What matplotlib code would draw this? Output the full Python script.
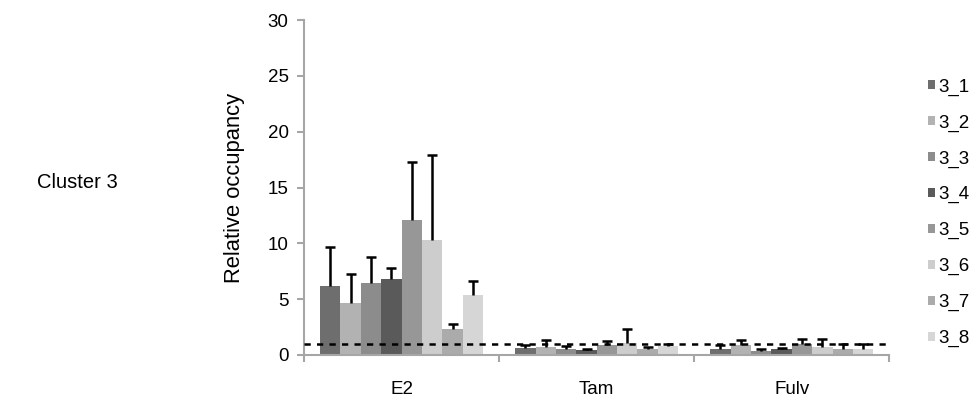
import matplotlib
matplotlib.use("Agg")
import matplotlib.pyplot as plt
import numpy as np

plt.rcParams['font.family'] = ['Liberation Sans', 'DejaVu Sans']

categories = ["E2", "Tam", "Fulv"]
series = ["3_1", "3_2", "3_3", "3_4", "3_5", "3_6", "3_7", "3_8"]
colors = ["#6e6e6e", "#b2b2b2", "#8c8c8c", "#5a5a5a", "#979797", "#cdcdcd", "#ababab", "#d6d6d6"]

# values[series][category]
values = [
    [6.2, 0.62, 0.58],
    [4.63, 0.70, 0.93],
    [6.45, 0.55, 0.37],
    [6.78, 0.42, 0.50],
    [12.1, 0.85, 1.00],
    [10.3, 1.10, 0.72],
    [2.36, 0.55, 0.54],
    [5.37, 0.80, 0.54],
]
errors = [
    [3.5, 0.23, 0.27],
    [2.62, 0.60, 0.37],
    [2.35, 0.25, 0.18],
    [1.02, 0.13, 0.15],
    [5.2, 0.40, 0.45],
    [7.6, 1.20, 0.73],
    [0.42, 0.15, 0.42],
    [1.28, 0.15, 0.42],
]
reference_level = 1.0

fig = plt.figure(figsize=(9.79, 4.05), dpi=100)
ax = fig.add_axes([0.3105, 0.1235, 0.598, 0.827])

n = len(series)
bw = 0.1045
x = np.arange(len(categories))
for i in range(n):
    offs = (i - (n - 1) / 2) * bw
    ax.bar(x + offs, values[i], width=bw, color=colors[i], label=series[i], zorder=2)
    eb = ax.errorbar(x + offs, values[i], yerr=[np.zeros(len(categories)), errors[i]],
                     fmt='none', ecolor='black', elinewidth=1.8, capsize=3.8,
                     capthick=1.8, zorder=2.5)
    caps = eb[1]
    if len(caps) == 2:
        caps[0].set_visible(False)

ax.axhline(reference_level, color='black', linestyle=(0, (2.5, 2.5)), linewidth=1.8, zorder=3)

ax.set_xlim(-0.5, len(categories) - 0.5)
ax.set_ylim(0, 30)
ax.set_yticks(np.arange(0, 31, 5))
ax.set_xticks(x)
ax.set_xticklabels(categories, fontsize=13.5)
ax.set_xticks(np.arange(-0.5, len(categories), 1), minor=True)
ax.tick_params(axis='x', which='major', length=0, pad=19)
ax.tick_params(axis='x', which='minor', length=5, width=1.5, color='#a6a6a6', direction='out')
ax.tick_params(axis='y', length=5, width=1.5, color='#a6a6a6', labelsize=13.5, pad=6)

for s in ['top', 'right']:
    ax.spines[s].set_visible(False)
for s in ['left', 'bottom']:
    ax.spines[s].set_color('#a6a6a6')
    ax.spines[s].set_linewidth(1.5)

ax.set_ylabel("Relative occupancy", fontsize=15.8, labelpad=16)

leg = ax.legend(loc='upper left', bbox_to_anchor=(1.053, 0.848), frameon=False,
                fontsize=13.5, handlelength=0.38, handleheight=0.38, handletextpad=0.2,
                labelspacing=1.0, borderaxespad=0)

fig.text(0.038, 0.55, "Cluster 3", fontsize=14.5, ha='left', va='center')

fig.savefig("out.png", dpi=100)
